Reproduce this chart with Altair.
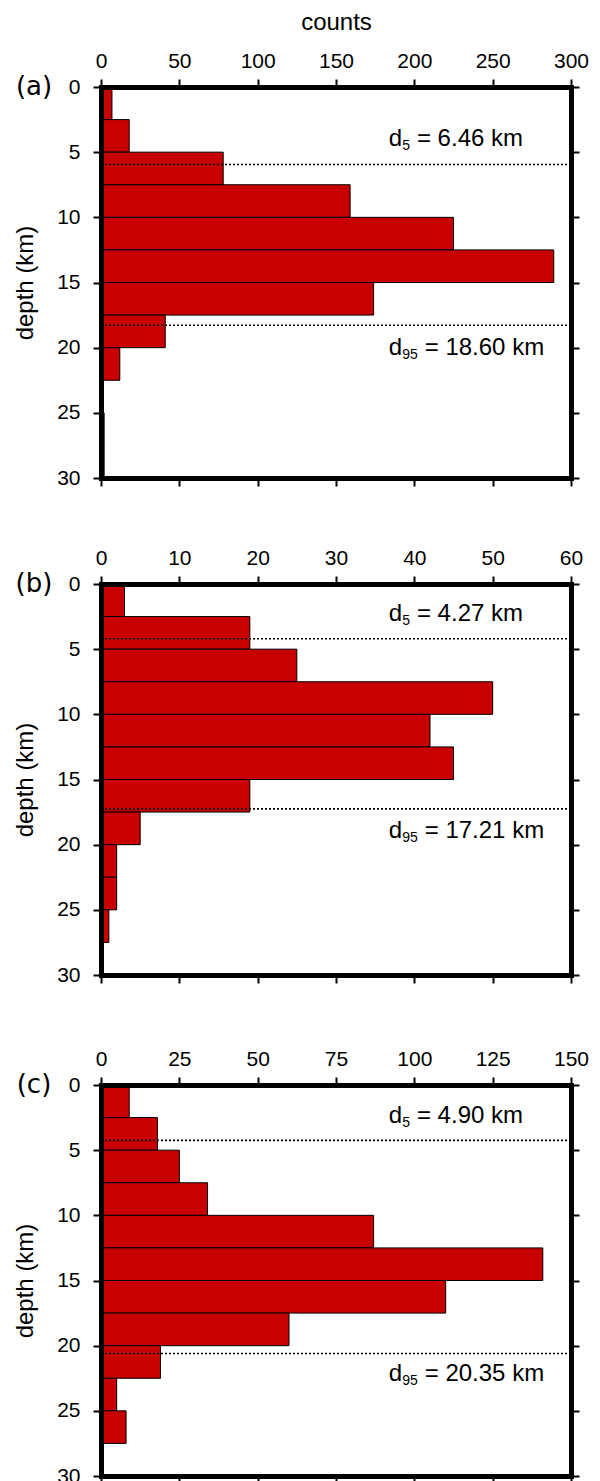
import altair as alt
import pandas as pd

# ---- data ----
bin_start = [0, 2.5, 5, 7.5, 10, 12.5, 15, 17.5, 20, 22.5, 25, 27.5]
bin_width = 2.5
counts_a = [7, 18, 78, 159, 225, 289, 174, 41, 12, 0, 2, 2]
counts_b = [3, 19, 25, 50, 42, 45, 19, 5, 2, 2, 1, 0]
counts_c = [9, 18, 25, 34, 87, 141, 110, 60, 19, 5, 8, 0]
all_counts = [counts_a, counts_b, counts_c]
panel_labels = ["(a)", "(b)", "(c)"]
x_max = [300, 60, 150]
x_step = [50, 10, 25]
d5_values = ["6.46", "4.27", "4.90"]
d95_values = ["18.60", "17.21", "20.35"]
d5_line = [5.95, 4.2, 4.25]
d95_line = [18.28, 17.25, 20.6]
d5_label_depth = [4.0, 2.27, 2.41]
d95_label_depth = [20.0, 18.95, 22.2]
label_frac = 0.612
depth_ticks = [0, 5, 10, 15, 20, 25, 30]

W, H = 470, 391
FONT = "Liberation Sans"
RED = "#c80000"
TICK_FS = 21
TITLE_FS = 24
ANN_FS = 24
SUB_FS = 14


def axis_common():
    return dict(domain=True, domainColor="black", domainWidth=5, domainCap="square",
                ticks=True, tickColor="black", tickWidth=2, tickSize=8, grid=False,
                labelFont=FONT, labelFontSize=TICK_FS, labelColor="black",
                titleFont=FONT, titleFontSize=TITLE_FS, titleColor="black",
                titleFontWeight="normal", zindex=1)


def panel(i):
    xm = x_max[i]
    counts = all_counts[i]
    bars_df = pd.DataFrame({
        "start": bin_start,
        "end": [s + bin_width for s in bin_start],
        "count": counts,
        "zero": [0] * len(bin_start),
    })
    bars_df = bars_df[bars_df["count"] > 0]
    xscale = alt.Scale(domain=[0, xm], nice=False, zero=True)
    yscale = alt.Scale(domain=[0, 30], reverse=True, nice=False)
    xticks = list(range(0, xm + 1, x_step[i]))

    top_kwargs = dict(orient="top", values=xticks, labelFlush=False, labelPadding=8,
                      titlePadding=16, **axis_common())
    if i == 0:
        top_axis = alt.Axis(title="counts", **top_kwargs)
    else:
        top_axis = alt.Axis(title=None, **top_kwargs)
    bottom_axis = alt.Axis(orient="bottom", values=xticks, labels=False, title=None,
                           **axis_common())
    left_axis = alt.Axis(orient="left", values=depth_ticks, labelPadding=13,
                         title="depth (km)", titlePadding=19, **axis_common())
    right_axis = alt.Axis(orient="right", values=depth_ticks, labels=False, title=None,
                          **axis_common())

    bars = alt.Chart(bars_df).mark_rect(fill=RED, stroke="black", strokeWidth=1).encode(
        x=alt.X("zero:Q", scale=xscale, axis=top_axis),
        x2="count:Q",
        y=alt.Y("start:Q", scale=yscale, axis=left_axis),
        y2="end:Q",
    )

    lines_df = pd.DataFrame({
        "depth": [d5_line[i], d95_line[i]],
        "x0": [0, 0],
        "x1": [xm, xm],
    })
    rules = alt.Chart(lines_df).mark_rule(color="black", strokeWidth=1.6,
                                          strokeDash=[2, 2]).encode(
        x=alt.X("x0:Q", scale=xscale, axis=bottom_axis),
        x2="x1:Q",
        y=alt.Y("depth:Q", scale=yscale, axis=right_axis),
    )

    layers = [bars, rules]
    # annotations: d_5 and d_95 with subscripts
    d_w = 0.556 * ANN_FS
    space_w = 0.278 * ANN_FS
    for sub, val, dep in [("5", d5_values[i], d5_label_depth[i]),
                          ("95", d95_values[i], d95_label_depth[i])]:
        rest_dx = d_w + 0.556 * SUB_FS * len(sub) + space_w + 0.5
        tdf = pd.DataFrame({"x": [label_frac * xm], "y": [dep],
                            "main": ["d"], "sub": [sub],
                            "rest": ["= " + val + " km"]})
        base = alt.Chart(tdf)
        enc = dict(x=alt.X("x:Q", scale=xscale, axis=None),
                   y=alt.Y("y:Q", scale=yscale, axis=None))
        layers.append(base.mark_text(font=FONT, fontSize=ANN_FS, align="left",
                                     baseline="middle", color="black").encode(text="main:N", **enc))
        layers.append(base.mark_text(font=FONT, fontSize=SUB_FS, align="left",
                                     baseline="middle", color="black", dx=d_w + 0.3, dy=7).encode(text="sub:N", **enc))
        layers.append(base.mark_text(font=FONT, fontSize=ANN_FS, align="left",
                                     baseline="middle", color="black", dx=rest_dx).encode(text="rest:N", **enc))

    ldf = pd.DataFrame({"label": [panel_labels[i]], "y": [0]})
    lab = alt.Chart(ldf).mark_text(font="DejaVu Sans", fontSize=26, align="center",
                                   baseline="middle", color="black").encode(
        x=alt.value(-67),
        y=alt.Y("y:Q", scale=yscale, axis=None),
        text="label:N",
    )
    layers.append(lab)

    return alt.layer(*layers).resolve_axis(x="independent", y="independent").properties(
        width=W, height=H)


top_two = alt.vconcat(panel(0), panel(1), spacing=59)
chart = alt.vconcat(top_two, panel(2), spacing=63).configure_view(
    strokeWidth=0).properties(padding={"left": 5, "top": 2, "right": 0, "bottom": 5})

chart.save("out.html", embed_options={"renderer": "svg", "actions": False})
